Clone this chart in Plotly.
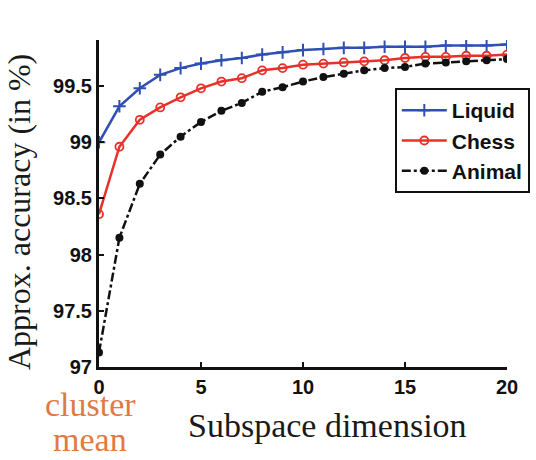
import plotly.graph_objects as go

dims = list(range(21))
liquid = [99.00, 99.32, 99.48, 99.60, 99.66, 99.70, 99.73, 99.75, 99.78, 99.80,
          99.82, 99.83, 99.84, 99.84, 99.85, 99.85, 99.85, 99.86, 99.86, 99.86, 99.87]
chess = [98.36, 98.96, 99.20, 99.31, 99.40, 99.48, 99.54, 99.57, 99.64, 99.66,
         99.69, 99.70, 99.71, 99.72, 99.73, 99.75, 99.76, 99.76, 99.77, 99.77, 99.78]
animal = [97.13, 98.15, 98.63, 98.89, 99.05, 99.18, 99.28, 99.35, 99.45, 99.49,
          99.54, 99.58, 99.61, 99.64, 99.66, 99.67, 99.70, 99.71, 99.72, 99.73, 99.74]
x_ticks = [0, 5, 10, 15, 20]
y_ticks = [97, 97.5, 98, 98.5, 99, 99.5]
y_tick_labels = ["97", "97.5", "98", "98.5", "99", "99.5"]

fig = go.Figure()
fig.add_trace(go.Scatter(x=dims, y=liquid, name="Liquid", mode="lines+markers",
                         line=dict(color="#2F4FB5", width=2.5),
                         marker=dict(symbol="cross-thin-open", size=9,
                                     line=dict(color="#2F4FB5", width=2), color="#2F4FB5")))
fig.add_trace(go.Scatter(x=dims, y=chess, name="Chess", mode="lines+markers",
                         line=dict(color="#E8302A", width=2.5),
                         marker=dict(symbol="circle-open", size=8,
                                     line=dict(color="#E8302A", width=1.8), color="#E8302A")))
fig.add_trace(go.Scatter(x=dims, y=animal, name="Animal", mode="lines+markers",
                         line=dict(color="#111111", width=2.5, dash="dashdot"),
                         marker=dict(symbol="circle", size=8, color="#111111")))

tickfont = dict(family="Liberation Sans, Arial", size=20, color="#111111", weight="bold")
serif = "Liberation Serif, Times New Roman"

fig.update_layout(
    width=536, height=460,
    margin=dict(l=99, r=29, t=40, b=93, autoexpand=False),
    paper_bgcolor="white", plot_bgcolor="white",
    showlegend=True,
    legend=dict(x=0.725, y=0.853, xanchor="left", yanchor="top",
                bgcolor="white", bordercolor="#111111", borderwidth=2,
                font=dict(family="Liberation Sans, Arial", size=21, color="#111111", weight="bold"),
                tracegroupgap=0, itemwidth=45),
    xaxis=dict(range=[0, 20], tickvals=x_ticks, ticks="inside", ticklen=5, tickwidth=2,
               tickcolor="#111111", showline=True, linecolor="#111111", linewidth=3,
               showgrid=False, zeroline=False, tickfont=tickfont),
    yaxis=dict(range=[97, 99.91], tickvals=y_ticks, ticktext=y_tick_labels,
               ticks="inside", ticklen=5, tickwidth=2,
               tickcolor="#111111", showline=True, linecolor="#111111", linewidth=3,
               showgrid=False, zeroline=False, tickfont=tickfont),
    annotations=[
        dict(text="Subspace dimension", x=0.561, y=-0.18, xref="paper", yref="paper",
             xanchor="center", yanchor="middle", showarrow=False,
             font=dict(family=serif, size=34, color="#1a1a1a")),
        dict(text="Approx. accuracy (in %)", x=-0.196, y=0.474, xref="paper", yref="paper",
             xanchor="center", yanchor="middle", showarrow=False, textangle=-90,
             font=dict(family=serif, size=32, color="#1a1a1a")),
        dict(text="cluster", x=-0.022, y=-0.116, xref="paper", yref="paper",
             xanchor="center", yanchor="middle", showarrow=False,
             font=dict(family=serif, size=34, color="#E07A45")),
        dict(text="mean", x=-0.022, y=-0.2844, xref="paper", yref="paper",
             xanchor="center", yanchor="bottom", showarrow=False,
             font=dict(family=serif, size=34, color="#E07A45")),
    ],
)

fig.write_html("out.html")
